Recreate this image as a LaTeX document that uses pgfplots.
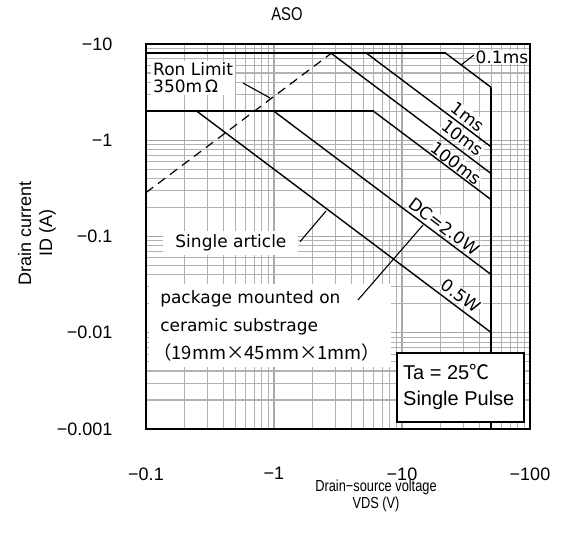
\documentclass[border=0pt]{standalone}
\usepackage{fontspec}
\setmainfont{Liberation Sans}
\newfontfamily\jp{Noto Sans CJK JP}
\newfontfamily\dv{DejaVu Sans}
\newfontfamily\nar[FakeStretch=0.8]{Liberation Sans}
\usepackage{pgfplots}
\pgfplotsset{compat=1.18}
\begin{document}
\begin{tikzpicture}[x=1pt,y=1pt]
\path[use as bounding box] (-146,-111) rectangle (417,429);
\begin{axis}[
  at={(0,0)}, anchor=south west,
  scale only axis, width=384pt, height=385pt,
  xmode=log, ymode=log,
  xmin=0.1, xmax=100, ymin=0.001, ymax=10,
  xtick={0.1,1,10,100}, xticklabels={−0.1,−1,−10,−100},
  ytick={0.001,0.01,0.1,1,10}, yticklabels={−0.001,−0.01,−0.1,−1,−10},
  minor xtick={0.2,0.3,0.4,0.5,0.6,0.7,0.8,0.9,2,3,4,5,6,7,8,9,20,30,40,50,60,70,80,90},
  minor ytick={0.002,0.003,0.004,0.005,0.006,0.007,0.008,0.009,0.02,0.03,0.04,0.05,0.06,0.07,0.08,0.09,0.2,0.3,0.4,0.5,0.6,0.7,0.8,0.9,2,3,4,5,6,7,8,9},
  grid=both,
  minor grid style={black!30, line width=1.1pt},
  major grid style={black!34, line width=1.1pt},
  tick style={draw=none},
  axis line style={line width=1.4pt},
  ticklabel style={font=\fontsize{18}{20}\selectfont},
  xticklabel style={yshift=-35pt},
  yticklabel style={xshift=-30pt},
  clip=false,
]
% annotations (under the lines)
\node[fill=white, inner sep=1pt, font=\dv\fontsize{17}{18}\selectfont] at (axis cs:60.4,7.33) {0.1ms};
\draw[black, line width=1.1pt] (axis cs:29,6.07) -- (axis cs:36.5,7.69);
\node[fill=white, inner sep=2pt, anchor=west, align=left, font=\dv\fontsize{17}{17}\selectfont] at (axis cs:0.1094,4.43) {Ron Limit\\350m\,Ω};
\draw[black, line width=1.1pt] (axis cs:0.573,3.93) -- (axis cs:0.931,2.75);
\node[fill=white, inner sep=0.5pt, rotate=-37, font=\dv\fontsize{17}{18}\selectfont] at (axis cs:32.8,1.76) {1ms};
\node[fill=white, inner sep=0.5pt, rotate=-37, font=\dv\fontsize{17}{18}\selectfont] at (axis cs:29.8,1.06) {10ms};
\node[fill=white, inner sep=0.5pt, rotate=-37, font=\dv\fontsize{17}{18}\selectfont] at (axis cs:26.4,0.58) {100ms};
\node[fill=white, inner sep=0.5pt, rotate=-37, font=\dv\fontsize{17}{18}\selectfont] at (axis cs:21.4,0.127) {DC=2.0W};
\node[fill=white, inner sep=0.5pt, rotate=-37, font=\dv\fontsize{17}{18}\selectfont] at (axis cs:28.9,0.0241) {0.5W};
\node[fill=white, inner xsep=12pt, inner ysep=4pt, font=\dv\fontsize{17}{18}\selectfont] at (axis cs:0.461,0.0855) {Single article};
\draw[black, line width=1.1pt] (axis cs:1.596,0.0883) -- (axis cs:2.55,0.184);
\node[fill=white, anchor=north west, inner xsep=11pt, inner ysep=6pt, align=left, font=\dv\fontsize{17}{28}\selectfont] at (axis cs:0.1057,0.032) {package mounted on\\ceramic substrage\\{\jp\fontsize{18.4}{28}\selectfont\hspace*{-7pt}（19mm×45mm×1mm）}};
\draw[black, line width=1.1pt] (axis cs:4.53,0.0219) -- (axis cs:14.6,0.1316);
% data lines
\addplot[black, line width=2pt] coordinates {(0.1,8) (22,8)};
\addplot[black, line width=1.4pt] coordinates {(22,8) (50,3.52)};
\addplot[black, line width=2pt] coordinates {(50,3.52) (50,0.001)};
\addplot[black, line width=1.4pt] coordinates {(5.3,8) (50,0.848)};
\addplot[black, line width=1.4pt] coordinates {(2.8,8) (50,0.448)};
\addplot[black, line width=1.8pt] coordinates {(0.1,2) (6,2)};
\addplot[black, line width=1.4pt] coordinates {(6,2) (50,0.24)};
\addplot[black, line width=1.4pt] coordinates {(1,2) (50,0.04)};
\addplot[black, line width=1.4pt] coordinates {(0.25,2) (50,0.01)};
\addplot[black, line width=1.2pt, dash pattern=on 9pt off 6pt] coordinates {(0.1,0.2857) (2.8,8)};
% Ta box
\draw[black, line width=1.2pt, fill=white] (axis cs:9.14,0.00616) rectangle (axis cs:89.8,0.00118);
\node[anchor=west, inner sep=0pt, font=\fontsize{20}{22}\selectfont] at (axis cs:10.18,0.00391) {Ta = 25{\jp ℃}};
\node[anchor=west, inner sep=0pt, font=\fontsize{20}{22}\selectfont] at (axis cs:10.18,0.0020) {Single Pulse};
\end{axis}
\node[font=\nar\fontsize{18.5}{19}\selectfont] at (141,415) {ASO};
\node[rotate=90, align=center, font=\fontsize{18}{21}\selectfont] at (-109,196) {Drain current\\ID (A)};
\node[align=center, font=\nar\fontsize{16}{16.5}\selectfont] at (230,-67) {Drain−source voltage\\VDS (V)};
\end{tikzpicture}
\end{document}
